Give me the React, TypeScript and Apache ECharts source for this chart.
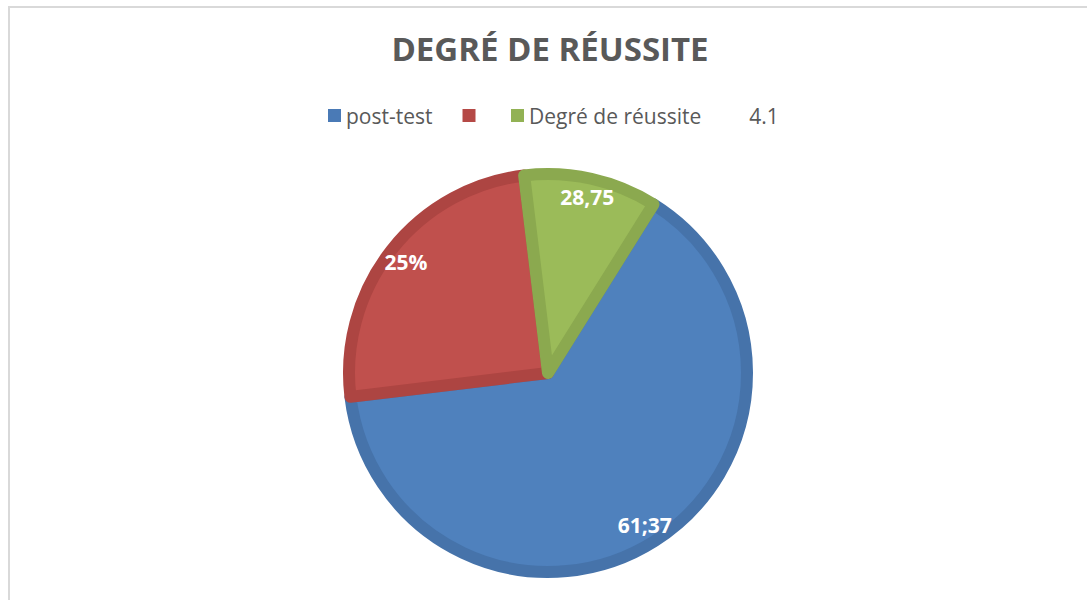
import React, { useEffect, useRef } from "react";
import * as echarts from "echarts";

const titleText = "DEGRÉ DE RÉUSSITE";
const categories = ["post-test", " ", "Degré de réussite", "4.1"];
const values = [64.2, 25, 10.8, 0];
const sliceLabels = ["61;37", "25%", "28,75", ""];
const fillColors = ["#4F81BD", "#C0504D", "#9BBB59", "rgba(0,0,0,0)"];
const borderColors = ["#4673AA", "#AD4542", "#8BA94F", "rgba(0,0,0,0)"];
const legendColors = ["#4A7AB6", "#B54946", "#92B254", "rgba(0,0,0,0)"];

export default function App() {
  const ref = useRef<HTMLDivElement>(null);
  useEffect(() => {
    if (!ref.current) return;
    const chart = echarts.init(ref.current, undefined, { renderer: "svg" });
    const font = "'Open Sans', 'Noto Sans', sans-serif";
    const baseData = categories.map((name, i) => ({
      name,
      value: values[i],
      itemStyle: {
        color: fillColors[i],
        borderColor: borderColors[i],
        borderWidth: values[i] > 0 ? 12 : 0,
      },
    }));
    const labelData = categories.map((name, i) => ({
      name,
      value: values[i],
      label: { show: values[i] > 0, formatter: sliceLabels[i] },
    }));
    chart.setOption({
      animation: false,
      backgroundColor: "#ffffff",
      title: {
        text: titleText,
        left: 545,
        top: 27,
        textAlign: "center",
        textStyle: {
          fontFamily: font,
          fontWeight: "bold",
          fontSize: 33,
          color: "#595959",
        },
      },
      legend: {
        data: categories.map((name, i) => ({
          name,
          itemStyle: { color: legendColors[i], borderWidth: 0 },
          textStyle: name.trim() === "" ? { fontSize: 2 } : undefined,
        })),
        left: 323,
        top: 100,
        itemWidth: 13,
        itemHeight: 13,
        itemGap: 30,
        icon: "rect",
        selectedMode: false,
        textStyle: {
          fontFamily: font,
          fontSize: 21,
          color: "#595959",
        },
      },
      graphic: [
        {
          type: "rect",
          shape: { x: 9, y: 7, width: 1200, height: 800 },
          style: { fill: "none", stroke: "#D9D9D9", lineWidth: 2 },
          silent: true,
        },
      ],
      series: [
        {
          type: "pie",
          center: [548, 373],
          radius: [0, 199],
          startAngle: 58,
          clockwise: true,
          label: { show: false },
          labelLine: { show: false },
          emphasis: { disabled: true },
          data: baseData,
        },
        {
          type: "pie",
          center: [548, 373],
          radius: [150, 205],
          startAngle: 58,
          clockwise: true,
          silent: true,
          itemStyle: { color: "rgba(0,0,0,0)", borderWidth: 0 },
          label: {
            show: true,
            position: "inside",
            color: "#ffffff",
            fontFamily: font,
            fontWeight: "bold",
            fontSize: 21,
          },
          labelLine: { show: false },
          emphasis: { disabled: true },
          data: labelData,
        },
      ],
    });
    return () => chart.dispose();
  }, []);
  return (
    <div
      ref={ref}
      style={{ position: "absolute", left: 0, top: 0, width: 1087, height: 600 }}
    />
  );
}
